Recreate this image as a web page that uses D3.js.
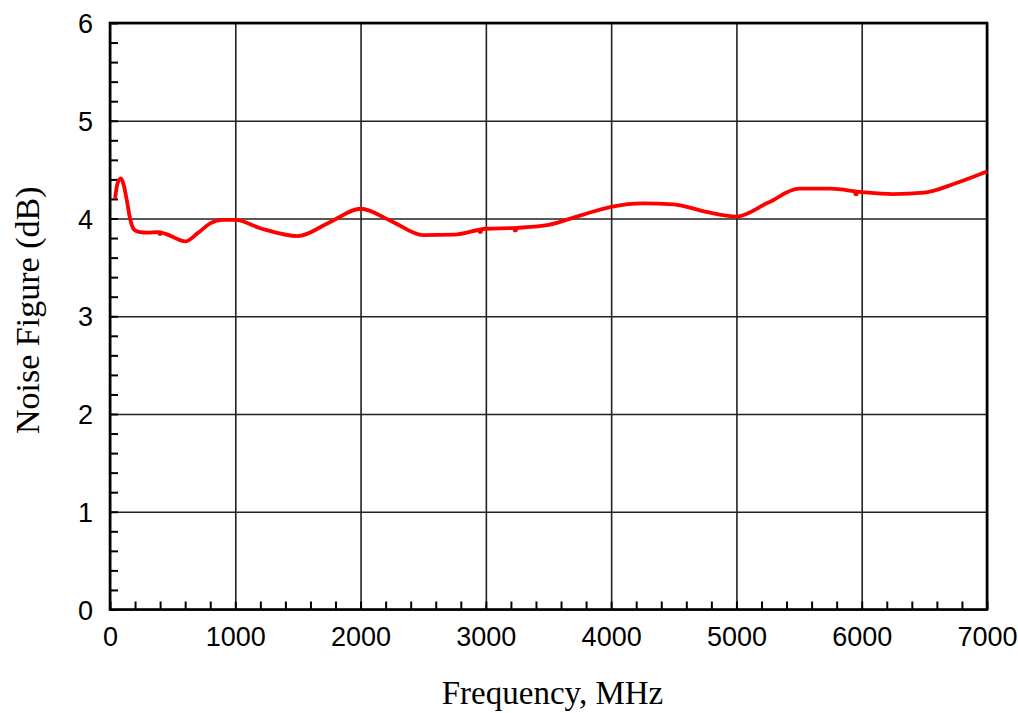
<!DOCTYPE html>
<html>
<head>
<meta charset="utf-8">
<script src="https://cdn.jsdelivr.net/npm/d3@7"></script>
<style>
  body { margin: 0; background: #fff; }
  .tick text { font-family: "Liberation Sans", Arial, sans-serif; font-size: 27px; fill: #000; }
  .domain { display: none; }
</style>
</head>
<body>
<div id="chart"></div>
<script>
// data
const freqMHz = [40, 60, 88, 110, 135, 160, 190, 215, 240, 300, 380, 450, 520, 600, 700, 800, 900, 1000,
    1200, 1500, 1750, 2000, 2250, 2500, 2750, 3000, 3250, 3500, 3750, 4000, 4250, 4500, 4750, 5000,
    5250, 5500, 5750, 6000, 6250, 6500, 6750, 7000];
const noiseFigure = [4.20, 4.36, 4.41, 4.34, 4.18, 4.00, 3.89, 3.87, 3.86, 3.855, 3.86, 3.84, 3.80, 3.765, 3.85, 3.95, 3.985, 3.985,
    3.90, 3.82, 3.96, 4.10, 3.97, 3.83, 3.835, 3.895, 3.905, 3.935, 4.03, 4.12, 4.155, 4.145, 4.07, 4.02,
    4.16, 4.305, 4.305, 4.27, 4.25, 4.265, 4.36, 4.48];
// small marker blips on the trace
const blipFreq = [400, 2955, 3235, 5955];
const blipNF = [3.85, 3.87, 3.885, 4.255];

const xTicks = [0, 1000, 2000, 3000, 4000, 5000, 6000, 7000];
const yTicks = [0, 1, 2, 3, 4, 5, 6];

const W = 1018, H = 713;
const margin = {top: 23, right: 31, bottom: 103.5, left: 110};
const width = W - margin.left - margin.right;
const height = H - margin.top - margin.bottom;

const svg = d3.select('#chart').append('svg')
    .attr('width', W)
    .attr('height', H)
    .append('g')
    .attr('transform', 'translate(' + margin.left + ',' + margin.top + ')');

const xScale = d3.scaleLinear().domain([0, 7000]).range([0, width]);
const yScale = d3.scaleLinear().domain([0, 6]).range([height, 0]);

// grid lines
svg.append('g')
    .attr('transform', 'translate(0,' + height + ')')
    .call(d3.axisBottom(xScale).tickValues(xTicks).tickSize(-height).tickFormat(''))
    .selectAll('line').attr('stroke', '#222').attr('stroke-width', 1.6);
svg.append('g')
    .call(d3.axisLeft(yScale).tickValues(yTicks).tickSize(-width).tickFormat(''))
    .selectAll('line').attr('stroke', '#222').attr('stroke-width', 1.6);

// minor ticks, pointing inward
const xMinor = d3.range(0, 7001, 200);
const yMinor = d3.range(0, 6.01, 0.2);
svg.append('g')
    .attr('transform', 'translate(0,' + height + ')')
    .call(d3.axisBottom(xScale).tickValues(xMinor).tickSize(-8).tickFormat(''))
    .selectAll('line').attr('stroke', '#000').attr('stroke-width', 2);
svg.append('g')
    .call(d3.axisLeft(yScale).tickValues(yMinor).tickSize(-8).tickFormat(''))
    .selectAll('line').attr('stroke', '#000').attr('stroke-width', 2);

// tick labels
const xAxisGroup = svg.append('g')
    .attr('transform', 'translate(0,' + height + ')')
    .call(d3.axisBottom(xScale).tickValues(xTicks).tickSize(0).tickPadding(17).tickFormat(d3.format('d')));
const yAxisGroup = svg.append('g')
    .call(d3.axisLeft(yScale).tickValues(yTicks).tickSize(0).tickPadding(17).tickFormat(d3.format('d')));
xAxisGroup.selectAll('text').attr('dy', '0.72em');
yAxisGroup.selectAll('text').attr('dy', '0.36em');

// frame
svg.append('rect')
    .attr('x', 0).attr('y', 0)
    .attr('width', width).attr('height', height)
    .attr('fill', 'none')
    .attr('stroke', '#000')
    .attr('stroke-width', 2.6);

// the trace
const data = freqMHz.map((f, i) => ({f: f, v: noiseFigure[i]}));
const line = d3.line()
    .x(d => xScale(d.f))
    .y(d => yScale(d.v))
    .curve(d3.curveMonotoneX);

svg.append('path')
    .datum(data)
    .attr('fill', 'none')
    .attr('stroke', '#ff0000')
    .attr('stroke-width', 3.8)
    .attr('stroke-linejoin', 'round')
    .attr('d', line);

svg.selectAll('.blip')
    .data(blipFreq.map((f, i) => ({f: f, v: blipNF[i]})))
    .enter().append('circle')
    .attr('class', 'blip')
    .attr('cx', d => xScale(d.f))
    .attr('cy', d => yScale(d.v))
    .attr('r', 2.6)
    .attr('fill', '#ff0000');

// axis titles
svg.append('text')
    .attr('x', width / 2 + 4)
    .attr('y', height + 94)
    .attr('text-anchor', 'middle')
    .style('font-family', '"Liberation Serif", "Times New Roman", serif')
    .style('font-size', '33px')
    .text('Frequency, MHz');

svg.append('text')
    .attr('transform', 'translate(' + (-110 + 39) + ',' + (height / 2 - 6) + ') rotate(-90)')
    .attr('text-anchor', 'middle')
    .style('font-family', '"Liberation Serif", "Times New Roman", serif')
    .style('font-size', '34px')
    .text('Noise Figure (dB)');
</script>
</body>
</html>
